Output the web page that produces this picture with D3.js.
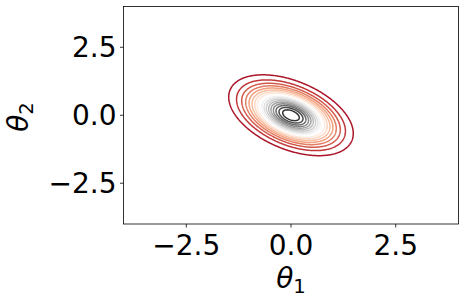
<!DOCTYPE html>
<html><head><meta charset="utf-8">
<script src="https://cdn.jsdelivr.net/npm/d3@7"></script>
<style>body{margin:0;background:#fff}svg{display:block}</style></head>
<body>
<script>
// ---- data ----
const mean = [0, 0];
const sigma = [0.613, 0.613];
const rho = [-0.45];
const levels = [0.025,0.05,0.075,0.1,0.125,0.15,0.175,0.2,0.225,0.25,0.275,0.3,0.325,0.35,0.375,0.4,0.425,0.45];
const colorDomain = [-0.02, 0.475];
const xTicks = [-2.5, 0, 2.5];
const yTicks = [-2.5, 0, 2.5];
const xTickLabels = ["\u22122.5", "0.0", "2.5"];
const yTickLabels = ["\u22122.5", "0.0", "2.5"];
const xDomain = [-4, 4];
const yDomain = [-4, 4];
const rdgy = ["#67001f","#b2182b","#d6604d","#f4a582","#fddbc7","#ffffff","#e0e0e0","#bababa","#878787","#4d4d4d","#1a1a1a"];

// ---- layout ----
const W = 465, H = 303;
const L = 123.5, R = 458.5, T = 6.5, B = 224;
const fs = 28;
const font = "'DejaVu Sans', sans-serif";

const svg = d3.select("body").append("svg").attr("width", W).attr("height", H)
  .style("font-family", font);

const xs = d3.scaleLinear().domain(xDomain).range([L, R]);
const ys = d3.scaleLinear().domain(yDomain).range([B, T]);
const cmap = d3.piecewise(d3.interpolateRgb, rdgy);
const color = d3.scaleLinear().domain(colorDomain).range([0, 1]);

// density grid
const n = 400;
const step = (xDomain[1] - xDomain[0]) / n;
const sx = sigma[0], sy = sigma[1], r = rho[0];
const norm = 1 / (2 * Math.PI * sx * sy * Math.sqrt(1 - r * r));
const values = new Float64Array(n * n);
for (let j = 0; j < n; j++) {
  const y = yDomain[0] + (j + 0.5) * step;
  for (let i = 0; i < n; i++) {
    const x = xDomain[0] + (i + 0.5) * step;
    const zx = (x - mean[0]) / sx, zy = (y - mean[1]) / sy;
    const q = (zx * zx - 2 * r * zx * zy + zy * zy) / (1 - r * r);
    values[j * n + i] = norm * Math.exp(-0.5 * q);
  }
}
const contours = d3.contours().size([n, n]).thresholds(levels)(values);

const proj = d3.geoTransform({
  point(x, y) {
    this.stream.point(xs(xDomain[0] + x * step), ys(yDomain[0] + y * step));
  }
});
const path = d3.geoPath(proj);

svg.append("clipPath").attr("id", "clip").append("rect")
  .attr("x", L).attr("y", T).attr("width", R - L).attr("height", B - T);

svg.append("g").attr("clip-path", "url(#clip)")
  .selectAll("path").data(contours).join("path")
  .attr("d", path)
  .attr("fill", "none")
  .attr("stroke", d => cmap(Math.max(0, Math.min(1, color(d.value)))))
  .attr("stroke-width", 1.5)
  .attr("stroke-linejoin", "round");

// frame
svg.append("rect").attr("x", L).attr("y", T).attr("width", R - L).attr("height", B - T)
  .attr("fill", "none").attr("stroke", "#000").attr("stroke-width", 0.8);

// x axis ticks
const gx = svg.append("g");
xTicks.forEach((t, i) => {
  gx.append("line").attr("x1", xs(t)).attr("x2", xs(t)).attr("y1", B).attr("y2", B + 3.5)
    .attr("stroke", "#000").attr("stroke-width", 0.8);
  gx.append("text").attr("x", xs(t)).attr("y", 255).attr("text-anchor", "middle")
    .attr("font-size", fs).text(xTickLabels[i]);
});
// y axis ticks
const gy = svg.append("g");
yTicks.forEach((t, i) => {
  gy.append("line").attr("x1", L - 3.5).attr("x2", L).attr("y1", ys(t)).attr("y2", ys(t))
    .attr("stroke", "#000").attr("stroke-width", 0.8);
  gy.append("text").attr("x", L - 7).attr("y", ys(t) + 10).attr("text-anchor", "end")
    .attr("font-size", fs).text(yTickLabels[i]);
});

// axis labels
const xl = svg.append("text").attr("x", 291).attr("y", 288).attr("text-anchor", "middle")
  .attr("font-size", fs);
xl.append("tspan").attr("font-style", "italic").text("\u03b8");
xl.append("tspan").attr("font-size", fs * 0.7).attr("dy", 5).text("1");

const yl = svg.append("text").attr("transform", "translate(28,117) rotate(-90)")
  .attr("text-anchor", "middle").attr("font-size", fs);
yl.append("tspan").attr("font-style", "italic").text("\u03b8");
yl.append("tspan").attr("font-size", fs * 0.7).attr("dy", 5).text("2");
</script>
</body></html>
